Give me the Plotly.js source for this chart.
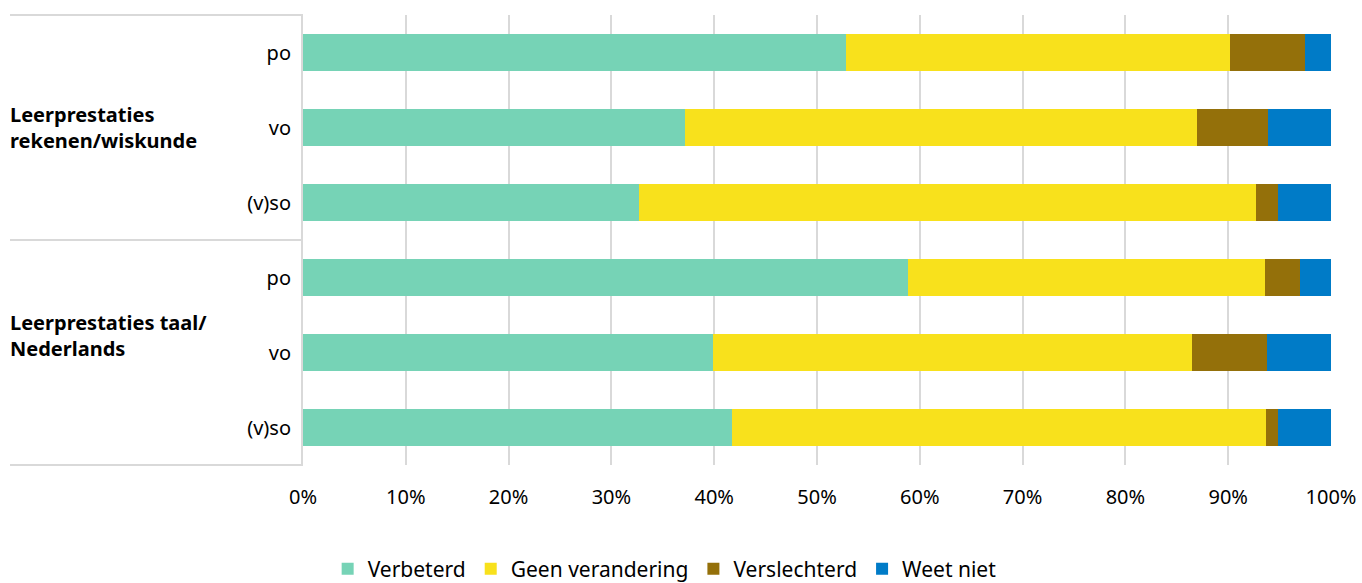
<!DOCTYPE html>
<html>
<head>
<meta charset="utf-8">
<script src="https://cdn.plot.ly/plotly-3.0.1.min.js"></script>
<style>html,body{margin:0;padding:0;background:#fff;}#chart{width:1362px;height:583px;}</style>
</head>
<body>
<div id="chart"></div>
<script>
// Category ids (unique) and their displayed tick labels
const categories = ["reken-po", "reken-vo", "reken-vso", "taal-po", "taal-vo", "taal-vso"];
const tickLabels = ["po", "vo", "(v)so", "po", "vo", "(v)so"];
const groupLabels = ["Leerprestaties<br>rekenen/wiskunde", "Leerprestaties taal/<br>Nederlands"];
const xTickValues = [0, 10, 20, 30, 40, 50, 60, 70, 80, 90, 100];
const xTickLabels = ["0%", "10%", "20%", "30%", "40%", "50%", "60%", "70%", "80%", "90%", "100%"];

const seriesNames = ["Verbeterd", "Geen verandering", "Verslechterd", "Weet niet"];
const verbeterd       = [52.8, 37.2, 32.7, 58.9, 39.9, 41.7];
const geenVerandering = [37.4, 49.8, 60.0, 34.7, 46.6, 52.0];
const verslechterd    = [7.3, 6.9, 2.1, 3.4, 7.3, 1.1];
const weetNiet        = [2.5, 6.1, 5.2, 3.0, 6.2, 5.2];

const colors = ["#76d3b6", "#f8e11c", "#94700a", "#007bc7"];
const seriesValues = [verbeterd, geenVerandering, verslechterd, weetNiet];

const FONT = "Noto Sans, Open Sans, sans-serif";

const traces = seriesValues.map((vals, i) => ({
  type: "bar",
  orientation: "h",
  name: seriesNames[i],
  y: categories,
  x: vals,
  marker: { color: colors[i], line: { width: 0 } },
  hoverinfo: "x+name"
}));

const gridColor = "#d9d9d9";

const layout = {
  width: 1362,
  height: 583,
  margin: { l: 303, r: 31, t: 15, b: 118 },
  paper_bgcolor: "#fff",
  plot_bgcolor: "#fff",
  barmode: "stack",
  bargap: 0.5,
  font: { family: FONT, size: 20, color: "#000" },
  xaxis: {
    range: [0, 100],
    tickmode: "array",
    tickvals: xTickValues,
    ticktext: xTickLabels,
    showgrid: true,
    gridcolor: gridColor,
    gridwidth: 2,
    zeroline: false,
    showline: false,
    ticks: "",
    ticklabelstandoff: 18,
    tickfont: { family: FONT, size: 20, color: "#000" },
    fixedrange: true
  },
  yaxis: {
    type: "category",
    categoryorder: "array",
    categoryarray: categories,
    autorange: "reversed",
    tickmode: "array",
    tickvals: categories,
    ticktext: tickLabels,
    showgrid: false,
    zeroline: false,
    showline: true,
    linecolor: gridColor,
    linewidth: 2,
    ticks: "",
    ticklabelstandoff: 6,
    tickfont: { family: FONT, size: 20, color: "#000" },
    fixedrange: true
  },
  shapes: [
    { type: "line", xref: "paper", yref: "paper", x0: -0.285, x1: 0, y0: 1, y1: 1, line: { color: gridColor, width: 2 } },
    { type: "line", xref: "paper", yref: "paper", x0: -0.285, x1: 0, y0: 0.5, y1: 0.5, line: { color: gridColor, width: 2 } },
    { type: "line", xref: "paper", yref: "paper", x0: -0.285, x1: 0, y0: 0, y1: 0, line: { color: gridColor, width: 2 } }
  ],
  annotations: [
    { xref: "paper", yref: "paper", x: -0.287, y: 0.749, xanchor: "left", yanchor: "middle", align: "left",
      text: "<b>" + groupLabels[0] + "</b>", showarrow: false, font: { family: FONT, size: 20, color: "#000" } },
    { xref: "paper", yref: "paper", x: -0.287, y: 0.287, xanchor: "left", yanchor: "middle", align: "left",
      text: "<b>" + groupLabels[1] + "</b>", showarrow: false, font: { family: FONT, size: 20, color: "#000" } }
  ],
  legend: {
    orientation: "h",
    xref: "container",
    yref: "container",
    x: 0.488,
    xanchor: "center",
    y: 0.024,
    yanchor: "middle",
    font: { family: FONT, size: 21, color: "#000" },
    itemwidth: 30,
    traceorder: "normal"
  },
  showlegend: true
};

Plotly.newPlot("chart", traces, layout, { displayModeBar: false, staticPlot: true });
</script>
</body>
</html>
